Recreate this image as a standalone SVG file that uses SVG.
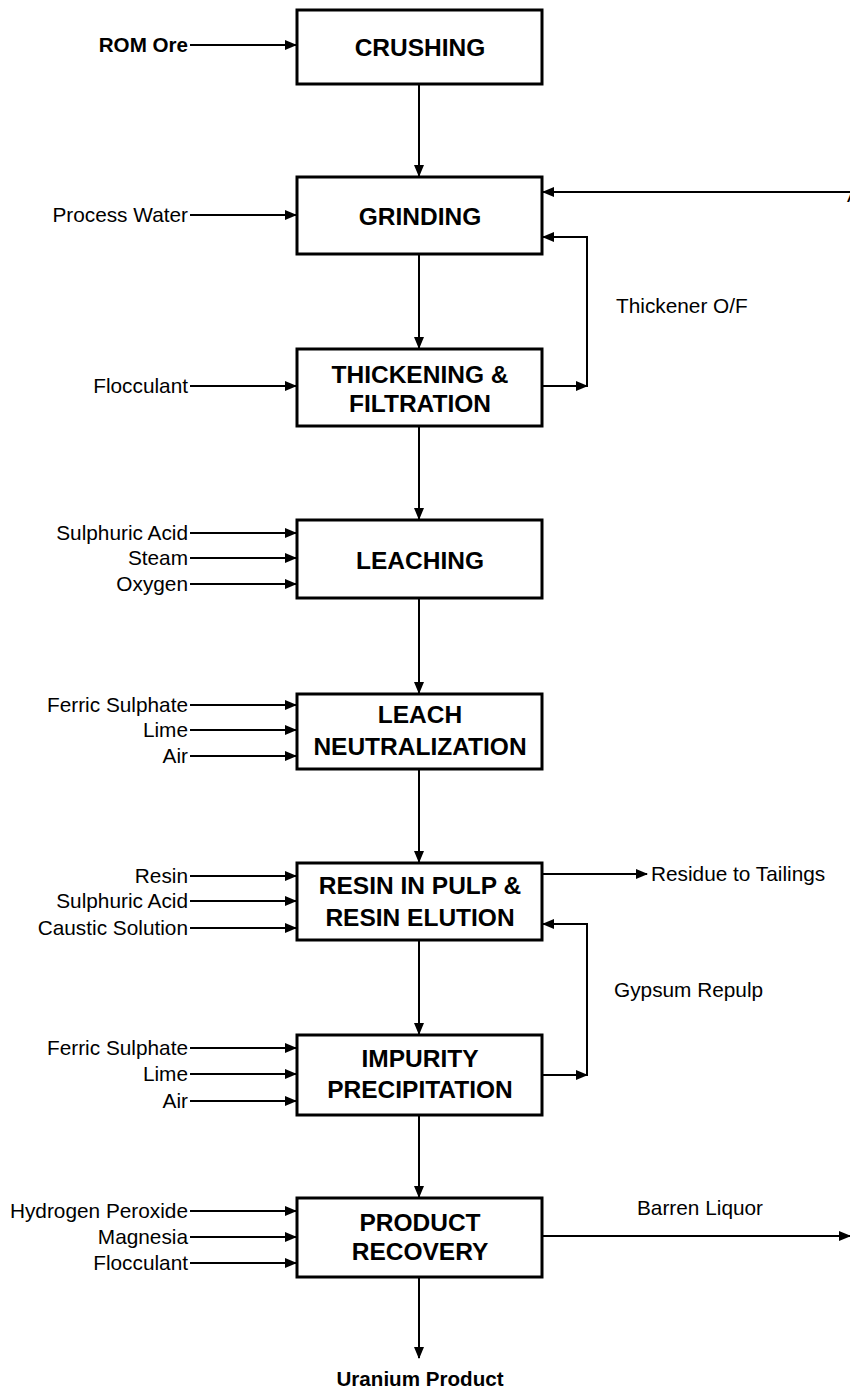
<svg xmlns="http://www.w3.org/2000/svg" width="850" height="1389" viewBox="0 0 850 1389">
<style>
.box{fill:#fff;stroke:#000;stroke-width:3}
.bt{font-family:"Liberation Sans",Arial,sans-serif;font-weight:bold;font-size:24.5px;text-anchor:middle;fill:#000}
.lb{font-family:"Liberation Sans",Arial,sans-serif;font-size:20.8px;fill:#000}
.lbb{font-family:"Liberation Sans",Arial,sans-serif;font-size:20.6px;font-weight:bold;fill:#000}
.end{text-anchor:end}
.ln{fill:none;stroke:#000;stroke-width:2}
.ar{fill:none;stroke:#000;stroke-width:2;marker-end:url(#ah)}
</style>
<defs>
<marker id="ah" markerUnits="userSpaceOnUse" markerWidth="12" markerHeight="10" refX="11" refY="5" orient="auto">
<path d="M0,0 L12,5 L0,10 z" fill="#000"/>
</marker>
</defs>
<rect width="850" height="1389" fill="#fff"/>
<g id="connectors">
<line class="ar" x1="419" y1="84" x2="419" y2="176"/>
<line class="ar" x1="419" y1="254" x2="419" y2="348"/>
<line class="ar" x1="419" y1="426" x2="419" y2="519"/>
<line class="ar" x1="419" y1="598" x2="419" y2="693"/>
<line class="ar" x1="419" y1="769" x2="419" y2="862"/>
<line class="ar" x1="419" y1="940" x2="419" y2="1034"/>
<line class="ar" x1="419" y1="1115" x2="419" y2="1197"/>
<line class="ar" x1="419" y1="1277" x2="419" y2="1358"/>
<line class="ar" x1="190" y1="45" x2="296" y2="45"/>
<line class="ar" x1="190" y1="215" x2="296" y2="215"/>
<line class="ar" x1="190" y1="386" x2="296" y2="386"/>
<line class="ar" x1="190" y1="533" x2="296" y2="533"/>
<line class="ar" x1="190" y1="558" x2="296" y2="558"/>
<line class="ar" x1="190" y1="584" x2="296" y2="584"/>
<line class="ar" x1="190" y1="705" x2="296" y2="705"/>
<line class="ar" x1="190" y1="730" x2="296" y2="730"/>
<line class="ar" x1="190" y1="756" x2="296" y2="756"/>
<line class="ar" x1="190" y1="876" x2="296" y2="876"/>
<line class="ar" x1="190" y1="901" x2="296" y2="901"/>
<line class="ar" x1="190" y1="928" x2="296" y2="928"/>
<line class="ar" x1="190" y1="1048" x2="296" y2="1048"/>
<line class="ar" x1="190" y1="1074" x2="296" y2="1074"/>
<line class="ar" x1="190" y1="1101" x2="296" y2="1101"/>
<line class="ar" x1="190" y1="1211" x2="296" y2="1211"/>
<line class="ar" x1="190" y1="1237" x2="296" y2="1237"/>
<line class="ar" x1="190" y1="1263" x2="296" y2="1263"/>
<line class="ar" x1="850" y1="192" x2="543" y2="192"/>
<line class="ar" x1="542" y1="386" x2="587" y2="386"/>
<line class="ln" x1="587" y1="387" x2="587" y2="237"/>
<line class="ar" x1="588" y1="237" x2="543" y2="237"/>
<line class="ar" x1="542" y1="874" x2="647" y2="874"/>
<line class="ar" x1="542" y1="1075" x2="587" y2="1075"/>
<line class="ln" x1="587" y1="1076" x2="587" y2="924"/>
<line class="ar" x1="588" y1="924" x2="543" y2="924"/>
<line class="ar" x1="542" y1="1236" x2="850" y2="1236"/>
</g>
<g id="crushing"><rect class="box" x="297" y="10" width="245" height="74"/><text class="bt" x="420" y="56">CRUSHING</text></g>
<g id="grinding"><rect class="box" x="297" y="177" width="245" height="77"/><text class="bt" x="420" y="225">GRINDING</text></g>
<g id="thickening"><rect class="box" x="297" y="349" width="245" height="77"/><text class="bt" x="420" y="383">THICKENING &amp;</text><text class="bt" x="420" y="412">FILTRATION</text></g>
<g id="leaching"><rect class="box" x="297" y="520" width="245" height="78"/><text class="bt" x="420" y="569">LEACHING</text></g>
<g id="leach-neutralization"><rect class="box" x="297" y="694" width="245" height="75"/><text class="bt" x="420" y="723">LEACH</text><text class="bt" x="420" y="755">NEUTRALIZATION</text></g>
<g id="resin"><rect class="box" x="297" y="863" width="245" height="77"/><text class="bt" x="420" y="894">RESIN IN PULP &amp;</text><text class="bt" x="420" y="926">RESIN ELUTION</text></g>
<g id="impurity"><rect class="box" x="297" y="1035" width="245" height="80"/><text class="bt" x="420" y="1067">IMPURITY</text><text class="bt" x="420" y="1098">PRECIPITATION</text></g>
<g id="product-recovery"><rect class="box" x="297" y="1198" width="245" height="79"/><text class="bt" x="420" y="1231">PRODUCT</text><text class="bt" x="420" y="1260">RECOVERY</text></g>
<g id="labels">
<text class="lbb end" x="188" y="52">ROM Ore</text>
<text class="lb end" x="188" y="222">Process Water</text>
<text class="lb end" x="188" y="393">Flocculant</text>
<text class="lb end" x="188" y="540">Sulphuric Acid</text>
<text class="lb end" x="188" y="565">Steam</text>
<text class="lb end" x="188" y="591">Oxygen</text>
<text class="lb end" x="188" y="712">Ferric Sulphate</text>
<text class="lb end" x="188" y="737">Lime</text>
<text class="lb end" x="188" y="763">Air</text>
<text class="lb end" x="188" y="883">Resin</text>
<text class="lb end" x="188" y="908">Sulphuric Acid</text>
<text class="lb end" x="188" y="935">Caustic Solution</text>
<text class="lb end" x="188" y="1055">Ferric Sulphate</text>
<text class="lb end" x="188" y="1081">Lime</text>
<text class="lb end" x="188" y="1108">Air</text>
<text class="lb end" x="188" y="1218">Hydrogen Peroxide</text>
<text class="lb end" x="188" y="1244">Magnesia</text>
<text class="lb end" x="188" y="1270">Flocculant</text>
<text class="lb" x="847" y="202">A</text>
<text class="lb" x="616" y="313">Thickener O/F</text>
<text class="lb" x="651" y="881">Residue to Tailings</text>
<text class="lb" x="614" y="997">Gypsum Repulp</text>
<text class="lb" x="637" y="1215">Barren Liquor</text>
<text class="lbb" x="420" y="1386" text-anchor="middle">Uranium Product</text>
</g>
</svg>
